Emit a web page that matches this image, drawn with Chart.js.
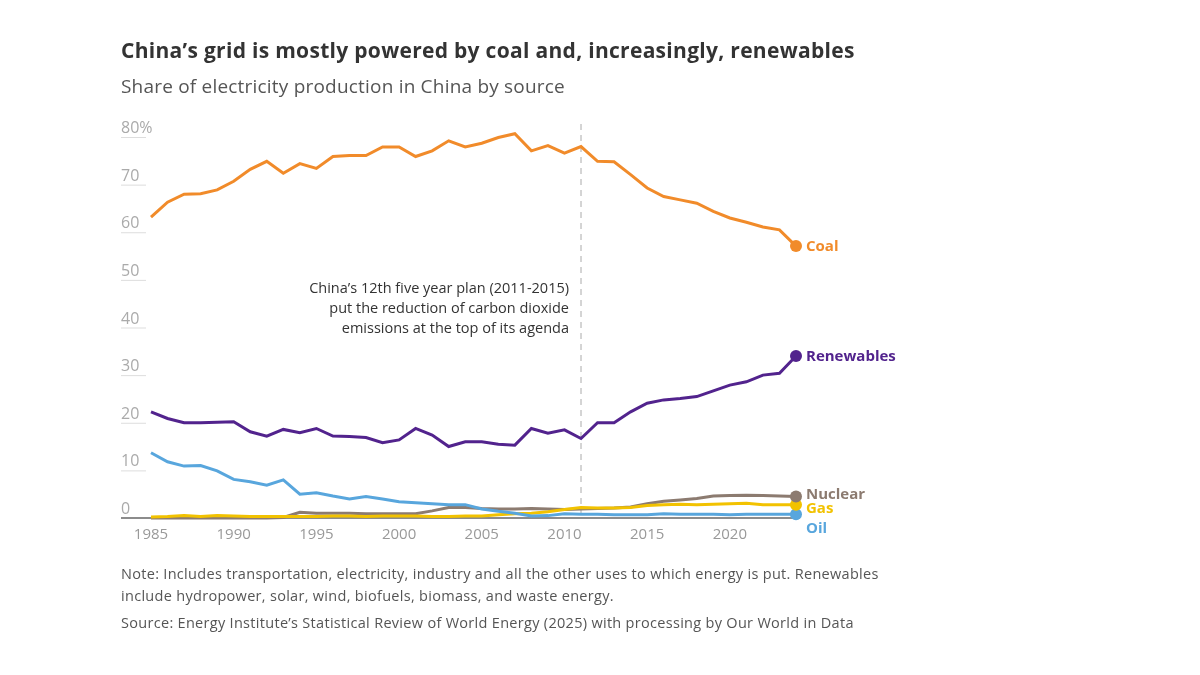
<!DOCTYPE html>
<html><head><meta charset="utf-8">
<script src="https://cdn.jsdelivr.net/npm/chart.js@4"></script>
<style>
body{margin:0;background:#fff;font-family:"Open Sans",sans-serif;}
#wrap{position:relative;width:1200px;height:675px;}
canvas{position:absolute;left:0;top:0;}
.t{position:absolute;left:121px;white-space:nowrap;}
</style></head><body>
<div id="wrap">
<canvas id="c" width="1200" height="675"></canvas>
<div class="t" style="top:36px;font-size:21px;font-weight:700;color:#333;letter-spacing:0.3px;">China’s grid is mostly powered by coal and, increasingly, renewables</div>
<div class="t" style="top:73px;font-size:19px;color:#555;letter-spacing:0.2px;">Share of electricity production in China by source</div>
<div class="t" style="top:563px;font-size:14.5px;color:#555;line-height:22px;letter-spacing:0.3px;">Note: Includes transportation, electricity, industry and all the other uses to which energy is put. Renewables<br>include hydropower, solar, wind, biofuels, biomass, and waste energy.</div>
<div class="t" style="top:613px;font-size:14.5px;color:#555;letter-spacing:0.3px;">Source: Energy Institute’s Statistical Review of World Energy (2025) with processing by Our World in Data</div>
</div>
<script>
const years=[];for(let y=1985;y<=2024;y++)years.push(y);
const coal=[63.2,66.3,68.0,68.1,68.9,70.7,73.2,74.9,72.4,74.4,73.4,75.9,76.1,76.1,77.9,77.9,75.9,77.1,79.2,77.9,78.7,79.9,80.7,77.1,78.2,76.6,78.0,74.9,74.8,72.1,69.3,67.5,66.8,66.1,64.4,63.0,62.1,61.1,60.5,57.1];
const renewables=[22.3,20.9,20.0,20.0,20.1,20.2,18.1,17.2,18.6,17.9,18.8,17.2,17.1,16.9,15.8,16.4,18.8,17.4,15.0,16.0,16.0,15.5,15.3,18.8,17.8,18.5,16.7,20.0,20.0,22.3,24.1,24.8,25.1,25.5,26.7,27.9,28.6,30.0,30.4,34.0];
const oil=[13.7,11.8,10.9,11.0,9.9,8.1,7.6,6.9,8.0,5.0,5.3,4.6,4.0,4.5,4.0,3.4,3.2,3.0,2.8,2.8,1.9,1.4,1.0,0.4,0.5,0.9,0.8,0.8,0.7,0.7,0.7,0.9,0.8,0.8,0.8,0.7,0.8,0.8,0.8,0.8];
const nuclear=[0,0,0,0,0,0,0,0,0.1,1.2,1.0,1.0,1.0,0.9,0.9,0.9,0.9,1.5,2.2,2.2,2.0,1.9,1.9,2.0,1.9,1.8,1.9,2.0,2.1,2.3,3.0,3.5,3.8,4.1,4.6,4.7,4.8,4.7,4.6,4.5];
const gas=[0.2,0.3,0.5,0.3,0.5,0.4,0.3,0.3,0.3,0.3,0.3,0.4,0.4,0.3,0.4,0.4,0.4,0.3,0.3,0.4,0.4,0.7,0.9,1.0,1.3,1.8,2.2,2.1,2.1,2.2,2.6,2.8,2.9,2.8,2.9,3.0,3.1,2.8,2.8,2.8];
const yTicks=[0,10,20,30,40,50,60,70,80];
const xTicks=[1985,1990,1995,2000,2005,2010,2015,2020];
const series=[
 {name:'Oil',data:oil,color:'#58a6dd',dy:14},
 {name:'Gas',data:gas,color:'#f2c200',dy:3},
 {name:'Nuclear',data:nuclear,color:'#8c7b70',dy:-3},
 {name:'Renewables',data:renewables,color:'#52238d',dy:0},
 {name:'Coal',data:coal,color:'#f18b2a',dy:0}
];
const deco={id:'deco',
 beforeDatasetsDraw(ch){const c=ch.ctx,xs=ch.scales.x,ys=ch.scales.y;c.save();
  c.font='16px "Open Sans"';c.textBaseline='alphabetic';
  yTicks.forEach(v=>{const y=ys.getPixelForValue(v);c.fillStyle='#aaa';c.textAlign='left';
   c.fillText(v===80?'80%':String(v),121,y-4);
   if(v!==0){c.strokeStyle='#ddd';c.lineWidth=1;c.beginPath();c.moveTo(121,y+0.5);c.lineTo(146,y+0.5);c.stroke();}});
  const y0=ys.getPixelForValue(0);c.strokeStyle='#666';c.lineWidth=1.5;c.beginPath();c.moveTo(121,y0);c.lineTo(xs.getPixelForValue(2024),y0);c.stroke();
  c.fillStyle='#999';c.textAlign='center';c.textBaseline='top';c.font='15px "Open Sans"';
  xTicks.forEach(v=>c.fillText(String(v),xs.getPixelForValue(v),y0+9));
  const xd=xs.getPixelForValue(2011);c.strokeStyle='#aaa';c.lineWidth=1;c.setLineDash([6,5]);c.beginPath();c.moveTo(xd,124);c.lineTo(xd,y0);c.stroke();c.setLineDash([]);
  c.fillStyle='#333';c.textAlign='right';c.textBaseline='middle';c.font='14.5px "Open Sans"';
  ['China’s 12th five year plan (2011-2015)','put the reduction of carbon dioxide','emissions at the top of its agenda'].forEach((t,i)=>c.fillText(t,569,289+i*20));
  c.restore();},
 afterDatasetsDraw(ch){const c=ch.ctx,xs=ch.scales.x,ys=ch.scales.y;c.save();
  series.forEach(s=>{const x=xs.getPixelForValue(2024),y=ys.getPixelForValue(s.data[s.data.length-1]);
   c.fillStyle=s.color;c.beginPath();c.arc(x,y,6,0,Math.PI*2);c.fill();
   c.font='bold 15px "Open Sans"';c.textAlign='left';c.textBaseline='middle';c.fillText(s.name,x+10,y+s.dy+1);});
  c.restore();}
};
new Chart(document.getElementById('c'),{type:'line',
 data:{datasets:series.map(s=>({label:s.name,data:years.map((y,i)=>({x:y,y:s.data[i]})),borderColor:s.color,borderWidth:3,pointRadius:0,tension:0,clip:false}))},
 options:{responsive:false,animation:false,layout:{padding:{left:151,right:404,top:137,bottom:157}},
  plugins:{legend:{display:false},tooltip:{enabled:false}},
  scales:{x:{type:'linear',min:1985,max:2024,display:false},y:{min:0,max:80,display:false}}},
 plugins:[deco]});
</script></body></html>
